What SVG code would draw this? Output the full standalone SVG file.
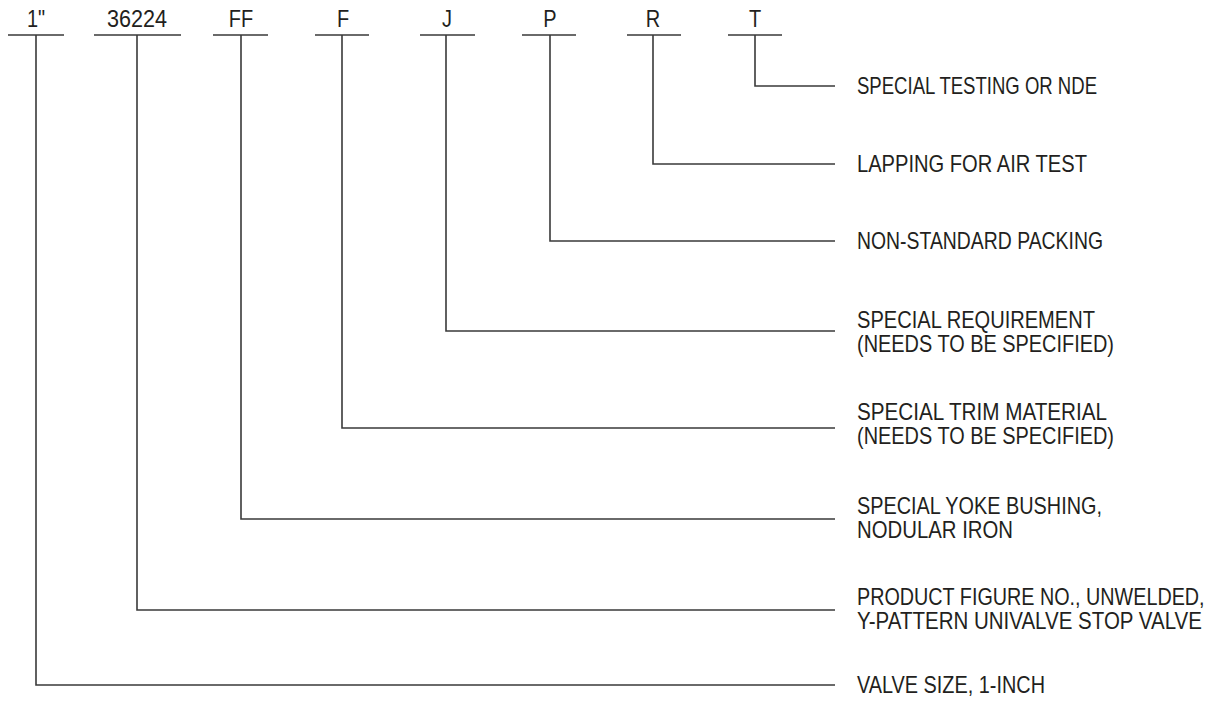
<svg xmlns="http://www.w3.org/2000/svg" width="1214" height="707" viewBox="0 0 1214 707">
<style>
  .ln { stroke: #3a3a3a; stroke-width: 1.6; fill: none; }
  text { font-family: "Liberation Sans", Arial, sans-serif; font-size: 24px; fill: #231f20; }
  .code { text-anchor: middle; }
</style>
<rect width="1214" height="707" fill="#ffffff"/>
<g id="connectors">
  <path class="ln" d="M8 35H64 M36 35V685H835"/>
  <path class="ln" d="M94 35H181 M137 35V610H835"/>
  <path class="ln" d="M213 35H268 M241 35V519H835"/>
  <path class="ln" d="M315 35H369 M342 35V428H835"/>
  <path class="ln" d="M420 35H475 M446 35V331H835"/>
  <path class="ln" d="M522 35H576 M550 35V241H835"/>
  <path class="ln" d="M627 35H681 M653 35V164H835"/>
  <path class="ln" d="M728 35H782 M755 35V86H835"/>
</g>
<g id="code-size"><text class="code" transform="translate(36 27) scale(0.833 1)">1"</text></g>
<g id="code-figure"><text class="code" transform="translate(137 27) scale(0.9 1)">36224</text></g>
<g id="code-ff"><text class="code" transform="translate(241 27) scale(0.833 1)">FF</text></g>
<g id="code-f"><text class="code" transform="translate(343 27) scale(0.833 1)">F</text></g>
<g id="code-j"><text class="code" transform="translate(447 27) scale(0.833 1)">J</text></g>
<g id="code-p"><text class="code" transform="translate(550 27) scale(0.833 1)">P</text></g>
<g id="code-r"><text class="code" transform="translate(653 27) scale(0.833 1)">R</text></g>
<g id="code-t"><text class="code" transform="translate(755 27) scale(0.833 1)">T</text></g>

<g id="desc-t"><text x="857" y="94" textLength="240" lengthAdjust="spacingAndGlyphs">SPECIAL TESTING OR NDE</text></g>
<g id="desc-r"><text x="857" y="172" textLength="230" lengthAdjust="spacingAndGlyphs">LAPPING FOR AIR TEST</text></g>
<g id="desc-p"><text x="857" y="249" textLength="246" lengthAdjust="spacingAndGlyphs">NON-STANDARD PACKING</text></g>
<g id="desc-j"><text x="857" y="328" textLength="238" lengthAdjust="spacingAndGlyphs">SPECIAL REQUIREMENT</text><text x="857" y="352" textLength="257" lengthAdjust="spacingAndGlyphs">(NEEDS TO BE SPECIFIED)</text></g>
<g id="desc-f"><text x="857" y="420" textLength="250" lengthAdjust="spacingAndGlyphs">SPECIAL TRIM MATERIAL</text><text x="857" y="444" textLength="257" lengthAdjust="spacingAndGlyphs">(NEEDS TO BE SPECIFIED)</text></g>
<g id="desc-ff"><text x="857" y="514" textLength="245" lengthAdjust="spacingAndGlyphs">SPECIAL YOKE BUSHING,</text><text x="857" y="538" textLength="156" lengthAdjust="spacingAndGlyphs">NODULAR IRON</text></g>
<g id="desc-figure">
  <text transform="translate(857 605) scale(0.824 1)">PRODUCT FIGURE NO., UNWELDED,</text>
  <text transform="translate(857 629) scale(0.855 1)">Y-PATTERN UNIVALVE STOP VALVE</text>
</g>
<g id="desc-size"><text x="857" y="693" textLength="188" lengthAdjust="spacingAndGlyphs">VALVE SIZE, 1-INCH</text></g>
</svg>
